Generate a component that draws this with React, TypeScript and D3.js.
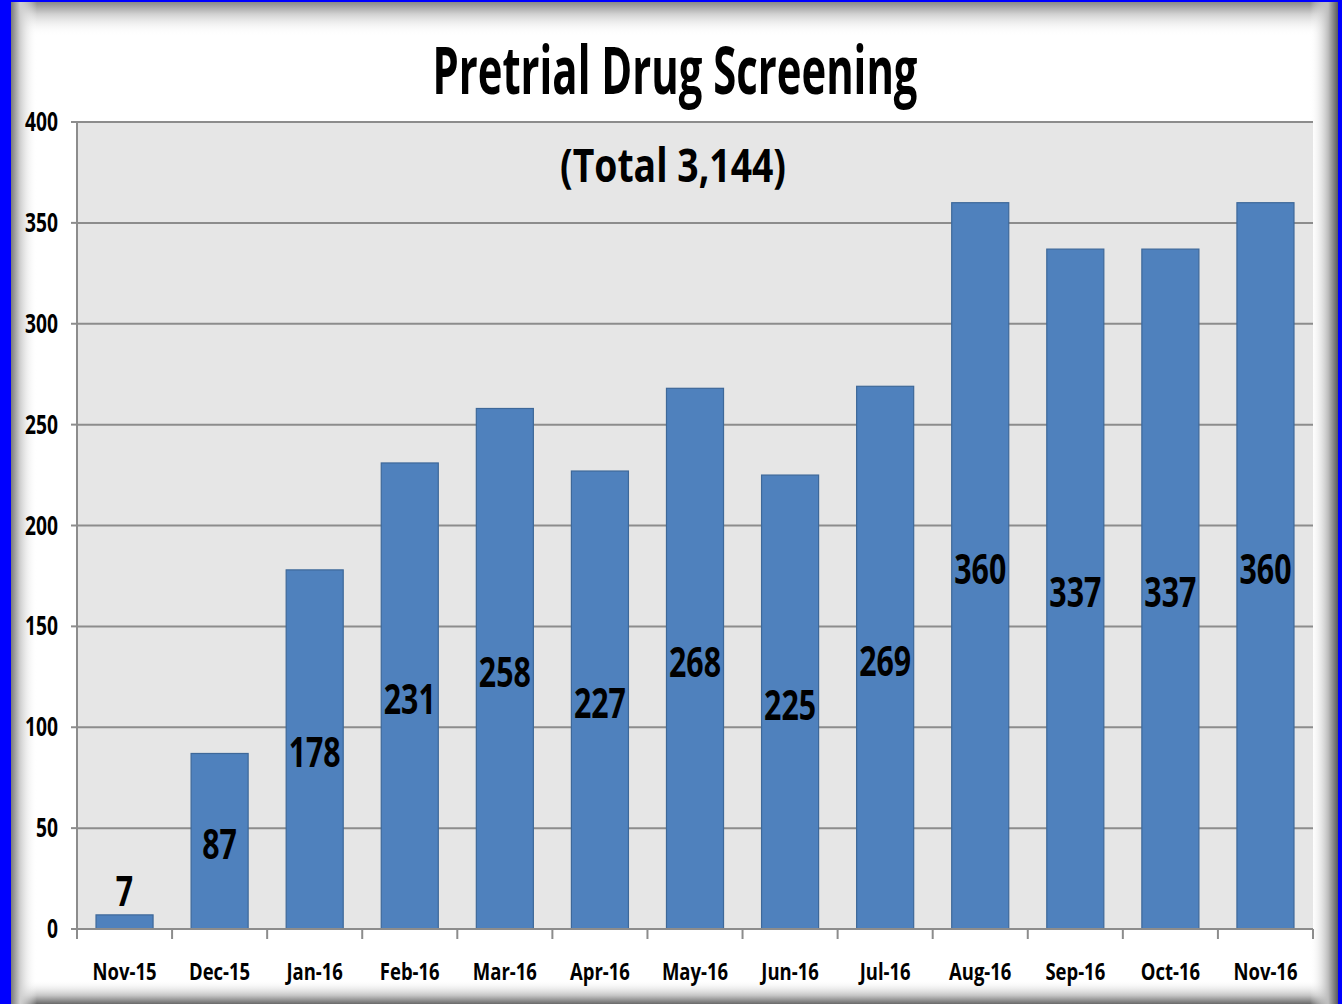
import React from "react";
import * as d3 from "d3";

const categories = ["Nov-15","Dec-15","Jan-16","Feb-16","Mar-16","Apr-16","May-16","Jun-16","Jul-16","Aug-16","Sep-16","Oct-16","Nov-16"];
const values = [7, 87, 178, 231, 258, 227, 268, 225, 269, 360, 337, 337, 360];
const yTicks = [0, 50, 100, 150, 200, 250, 300, 350, 400];
const title = "Pretrial Drug Screening";
const subtitle = "(Total 3,144)";

const W = 1342, H = 1004;
const plot = { left: 77, right: 1313, top: 122, bottom: 929 };
const FONT = "'Open Sans', 'Liberation Sans', sans-serif";

export default function App() {
  const x = d3.scaleBand<string>().domain(categories).range([plot.left, plot.right]).paddingInner(0.4).paddingOuter(0.2);
  const xb = d3.scaleBand<string>().domain(categories).range([plot.left, plot.right]);
  const y = d3.scaleLinear().domain([0, 400]).range([plot.bottom, plot.top]);
  const sx = 0.74;

  return (
    <svg width={W} height={H} style={{ position: "absolute", left: 0, top: 0 }} fontFamily={FONT}>
      <defs>
        <linearGradient id="gTop" x1="0" y1="0" x2="0" y2="1">
          <stop offset="0" stopColor="#8a8a8a" />
          <stop offset="0.35" stopColor="#d0d0d0" />
          <stop offset="1" stopColor="#ffffff" stopOpacity="0" />
        </linearGradient>
        <linearGradient id="gBottom" x1="0" y1="1" x2="0" y2="0">
          <stop offset="0" stopColor="#6a6a6a" />
          <stop offset="0.35" stopColor="#c4c4c4" />
          <stop offset="1" stopColor="#ffffff" stopOpacity="0" />
        </linearGradient>
        <linearGradient id="gLeft" x1="0" y1="0" x2="1" y2="0">
          <stop offset="0" stopColor="#7a7a7a" />
          <stop offset="0.35" stopColor="#cfcfcf" />
          <stop offset="1" stopColor="#ffffff" stopOpacity="0" />
        </linearGradient>
        <linearGradient id="gRight" x1="1" y1="0" x2="0" y2="0">
          <stop offset="0" stopColor="#5a5a5a" />
          <stop offset="0.35" stopColor="#bdbdbd" />
          <stop offset="1" stopColor="#ffffff" stopOpacity="0" />
        </linearGradient>
      </defs>
      <rect x={0} y={0} width={W} height={H} fill="#0000ff" />
      <rect x={11} y={2} width={W - 15} height={H - 2} fill="#ffffff" />
      <rect x={11} y={2} width={W - 15} height={34} fill="url(#gTop)" />
      <rect x={11} y={H - 24} width={W - 15} height={24} fill="url(#gBottom)" />
      <rect x={11} y={2} width={26} height={H - 2} fill="url(#gLeft)" />
      <rect x={W - 4 - 28} y={2} width={28} height={H - 2} fill="url(#gRight)" />

      <rect x={plot.left} y={plot.top} width={plot.right - plot.left} height={plot.bottom - plot.top} fill="#e6e6e6" />

      {yTicks.map((t) => (
        <g key={t}>
          {t > 0 && <line x1={plot.left} x2={plot.right} y1={y(t)} y2={y(t)} stroke="#8c8c8c" strokeWidth={2} />}
          <line x1={71} x2={plot.left} y1={y(t)} y2={y(t)} stroke="#8c8c8c" strokeWidth={2} />
          <text transform={`translate(58,${y(t) + 9}) scale(${sx},1)`} textAnchor="end" fontSize={26} fontWeight={700} fill="#000">{t}</text>
        </g>
      ))}

      {categories.map((c, i) => (
        <g key={c}>
          <rect x={x(c)} y={y(values[i])} width={x.bandwidth()} height={plot.bottom - y(values[i])} fill="#4f81bd" stroke="#3e6899" strokeWidth={1.2} />
        </g>
      ))}

      <line x1={plot.left} x2={plot.left} y1={plot.top} y2={plot.bottom} stroke="#8c8c8c" strokeWidth={2} />
      <line x1={71} x2={plot.right} y1={plot.bottom} y2={plot.bottom} stroke="#8c8c8c" strokeWidth={2} />
      {[...categories.map((c) => xb(c) as number), plot.right].map((p, i) => (
        <line key={i} x1={p} x2={p} y1={plot.bottom} y2={plot.bottom + 10} stroke="#8c8c8c" strokeWidth={2} />
      ))}

      {categories.map((c, i) => {
        const cx = (x(c) as number) + x.bandwidth() / 2;
        const top = y(values[i]);
        const mid = (top + plot.bottom) / 2;
        const by = values[i] < 30 ? top - 9 : mid + 18;
        return (
          <g key={c}>
            <text transform={`translate(${cx},${by}) scale(${sx},1)`} textAnchor="middle" fontSize={41} fontWeight={700} fill="#000">{values[i]}</text>
            <text transform={`translate(${cx},${980}) scale(0.77,1)`} textAnchor="middle" fontSize={24} fontWeight={700} fill="#000">{c}</text>
          </g>
        );
      })}

      <text x={675} y={94} textAnchor="middle" fontSize={67} fontWeight={700} fill="#000" textLength={485} lengthAdjust="spacingAndGlyphs">{title}</text>
      <text x={673} y={182} textAnchor="middle" fontSize={46} fontWeight={700} fill="#000" textLength={226} lengthAdjust="spacingAndGlyphs">{subtitle}</text>
    </svg>
  );
}
